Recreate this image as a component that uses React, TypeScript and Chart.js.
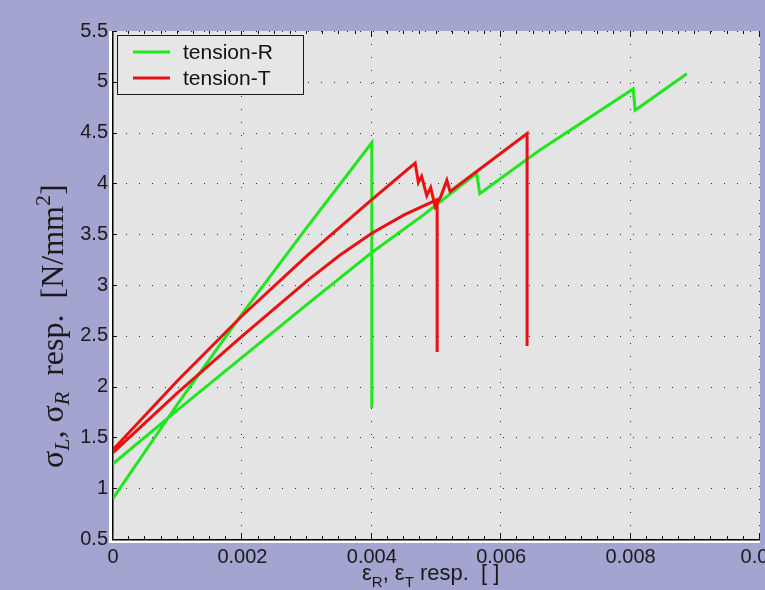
import { useEffect, useRef } from "react";
import { Chart, registerables } from "chart.js";

Chart.register(...registerables);

// Axis ticks
const xTicks = [0, 0.002, 0.004, 0.006, 0.008, 0.01];
const xTickLabels = ["0", "0.002", "0.004", "0.006", "0.008", "0.01"];
const yTicks = [0.5, 1, 1.5, 2, 2.5, 3, 3.5, 4, 4.5, 5, 5.5];
const yTickLabels = ["0.5", "1", "1.5", "2", "2.5", "3", "3.5", "4", "4.5", "5", "5.5"];

// tension-R, specimen 1
const strainR1 = [0, 0.001, 0.002, 0.003, 0.004, 0.004];
const stressR1 = [0.9, 1.83, 2.72, 3.57, 4.4, 1.79];

// tension-R, specimen 2
const strainR2 = [0, 0.001, 0.002, 0.003, 0.004, 0.0048, 0.00562, 0.00567, 0.0066, 0.00804, 0.00807, 0.00887];
const stressR2 = [1.24, 1.77, 2.29, 2.81, 3.32, 3.69, 4.1, 3.9, 4.33, 4.93, 4.72, 5.08];

// tension-T, specimen 1
const strainT1 = [0, 0.001, 0.002, 0.003, 0.004, 0.00467, 0.00472, 0.00477, 0.00485, 0.00491, 0.00498, 0.00506, 0.00516, 0.00521, 0.0064, 0.0064];
const stressT1 = [1.38, 2.06, 2.7, 3.29, 3.84, 4.2, 4.01, 4.07, 3.88, 3.96, 3.77, 3.86, 4.03, 3.92, 4.49, 2.4];

// tension-T, specimen 2
const strainT2 = [0, 0.001, 0.002, 0.003, 0.0035, 0.004, 0.0045, 0.00501, 0.00501];
const stressT2 = [1.35, 1.94, 2.5, 3.04, 3.29, 3.51, 3.69, 3.84, 2.34];

const seriesNames = ["tension-R", "tension-T"];
const seriesColors = ["#20e620", "#e81212"];

const SANS = "'Liberation Sans', Arial, Helvetica, sans-serif";
const SERIF = "'Liberation Serif', 'Times New Roman', serif";

type Pt = { x: number; y: number | null };

function toPoints(xs: number[], ys: number[]): Pt[] {
  return xs.map((x, i) => ({ x, y: ys[i] }));
}

// several curves in one dataset, separated by gaps
function joinCurves(...curves: Pt[][]): Pt[] {
  const out: Pt[] = [];
  curves.forEach((c, i) => {
    if (i > 0) out.push({ x: c[0].x, y: null });
    out.push(...c);
  });
  return out;
}

type Seg = { text: string; font: string; dy: number };

function drawRich(ctx: CanvasRenderingContext2D, segs: Seg[], x: number, y: number) {
  let cx = x;
  for (const s of segs) {
    ctx.font = s.font;
    ctx.fillText(s.text, cx, y + s.dy);
    cx += ctx.measureText(s.text).width;
  }
}

const framePlugin = {
  id: "frame",
  beforeDraw(chart: any) {
    const { ctx, chartArea: a, width, height } = chart;
    ctx.save();
    ctx.fillStyle = "#a3a4cf";
    ctx.fillRect(0, 0, width, height);
    // white edge along left and bottom axes
    ctx.fillStyle = "#ffffff";
    ctx.fillRect(a.left - 4, a.top, 4, a.bottom - a.top + 4);
    ctx.fillRect(a.left - 4, a.bottom, a.right - a.left + 4, 4);
    ctx.fillStyle = "#e4e4e4";
    ctx.fillRect(a.left, a.top, a.right - a.left, a.bottom - a.top);
    ctx.restore();
  },
  beforeDatasetsDraw(chart: any) {
    const { ctx, chartArea: a } = chart;
    const xs = chart.scales.x;
    const ys = chart.scales.y;
    ctx.save();
    ctx.fillStyle = "#2e2e2e";
    const step = 13;
    // dotted grid
    for (const v of xTicks) {
      if (v === 0) continue;
      const px = Math.round(xs.getPixelForValue(v)) - 1;
      for (let py = a.top; py < a.bottom; py += step) ctx.fillRect(px, Math.round(py), 1, 1);
    }
    for (const v of yTicks) {
      if (v === 0.5) continue;
      const py = Math.round(ys.getPixelForValue(v));
      for (let px = a.left; px < a.right; px += step) ctx.fillRect(Math.round(px), py, 1, 1);
    }
    // axis lines
    ctx.fillStyle = "#000000";
    ctx.fillRect(a.left - 1, a.top, 1.5, a.bottom - a.top + 1);
    ctx.fillRect(a.left - 1, a.bottom, a.right - a.left + 1, 1.5);
    // tick marks
    ctx.fillStyle = "#111111";
    for (const v of yTicks) {
      const py = Math.round(ys.getPixelForValue(v));
      ctx.fillRect(a.left, py, 4, 1);
    }
    for (let v = 0; v <= 0.01 + 1e-9; v += 0.00025) {
      const px = Math.round(xs.getPixelForValue(v)) - 1;
      const major = Math.abs(v / 0.002 - Math.round(v / 0.002)) < 1e-6;
      const len = major ? 6 : 3;
      ctx.fillRect(px, a.bottom - len, 1, len);
      ctx.fillRect(px, a.top, 1, len);
    }
    ctx.restore();
  },
  afterDraw(chart: any) {
    const { ctx, chartArea: a } = chart;
    ctx.save();

    // legend
    const bx = a.left + 4;
    const by = a.top + 4;
    const bw = 186;
    const bh = 59;
    ctx.fillStyle = "#e6e6e6";
    ctx.fillRect(bx, by, bw, bh);
    ctx.strokeStyle = "#1a1a1a";
    ctx.lineWidth = 1;
    ctx.strokeRect(bx + 0.5, by + 0.5, bw, bh);
    seriesNames.forEach((name, i) => {
      const ly = by + 17 + i * 26;
      ctx.strokeStyle = seriesColors[i];
      ctx.lineWidth = 3;
      ctx.beginPath();
      ctx.moveTo(bx + 16, ly);
      ctx.lineTo(bx + 53, ly);
      ctx.stroke();
      ctx.fillStyle = "#111111";
      ctx.font = `21px ${SANS}`;
      ctx.textBaseline = "middle";
      ctx.textAlign = "left";
      ctx.fillText(name, bx + 66, ly + 1);
    });

    // x axis title
    ctx.fillStyle = "#1a1a1a";
    ctx.textBaseline = "alphabetic";
    ctx.textAlign = "left";
    const fx = `22px ${SANS}`;
    const fs = `15px ${SANS}`;
    drawRich(
      ctx,
      [
        { text: "ε", font: fx, dy: 0 },
        { text: "R", font: fs, dy: 7 },
        { text: ", ε", font: fx, dy: 0 },
        { text: "T", font: fs, dy: 7 },
        { text: " resp.  [ ]", font: fx, dy: 0 },
      ],
      362,
      580
    );

    // y axis title (rotated)
    ctx.translate(63, 468);
    ctx.rotate(-Math.PI / 2);
    const fn = `32px ${SERIF}`;
    const fi = `italic 22px ${SERIF}`;
    const fsup = `22px ${SERIF}`;
    drawRich(
      ctx,
      [
        { text: "σ", font: fn, dy: 0 },
        { text: "L", font: fi, dy: 6 },
        { text: ", σ", font: fn, dy: 0 },
        { text: "R", font: fi, dy: 6 },
        { text: "  resp.  [N/mm", font: fn, dy: 0 },
        { text: "2", font: fsup, dy: -13 },
        { text: "]", font: fn, dy: 0 },
      ],
      0,
      0
    );
    ctx.restore();
  },
};

export default function App() {
  const canvasRef = useRef<HTMLCanvasElement | null>(null);

  useEffect(() => {
    if (!canvasRef.current) return;
    const greenData = joinCurves(toPoints(strainR1, stressR1), toPoints(strainR2, stressR2));
    const redData = joinCurves(toPoints(strainT1, stressT1), toPoints(strainT2, stressT2));

    const tickFont = { family: SANS, size: 20 };

    const chart = new Chart(canvasRef.current, {
      type: "scatter",
      data: {
        datasets: [
          {
            label: seriesNames[0],
            data: greenData as any,
            showLine: true,
            borderColor: seriesColors[0],
            borderWidth: 3,
            pointRadius: 0,
            spanGaps: false,
            order: 1,
          },
          {
            label: seriesNames[1],
            data: redData as any,
            showLine: true,
            borderColor: seriesColors[1],
            borderWidth: 3,
            pointRadius: 0,
            spanGaps: false,
            order: 0,
          },
        ],
      },
      options: {
        responsive: false,
        animation: false,
        devicePixelRatio: 1,
        layout: { padding: { top: 31, right: 5, left: 0, bottom: 0 } },
        plugins: {
          legend: { display: false },
          tooltip: { enabled: false },
        },
        scales: {
          x: {
            type: "linear",
            min: 0,
            max: 0.01,
            afterBuildTicks: (s: any) => {
              s.ticks = xTicks.map((value) => ({ value }));
            },
            afterFit: (s: any) => {
              s.height = 51;
              s.paddingLeft = 0;
              s.paddingRight = 0;
            },
            ticks: {
              callback: (_v: any, i: number) => xTickLabels[i],
              autoSkip: false,
              maxRotation: 0,
              minRotation: 0,
              font: tickFont,
              color: "#1a1a1a",
              padding: 6,
            },
            grid: { display: false, drawTicks: false, tickLength: 0 },
            border: { display: false },
          },
          y: {
            type: "linear",
            min: 0.5,
            max: 5.5,
            afterBuildTicks: (s: any) => {
              s.ticks = yTicks.map((value) => ({ value }));
            },
            afterFit: (s: any) => {
              s.width = 113;
              s.paddingTop = 0;
              s.paddingBottom = 0;
            },
            ticks: {
              callback: (_v: any, i: number) => yTickLabels[i],
              autoSkip: false,
              font: tickFont,
              color: "#1a1a1a",
              padding: 5,
            },
            grid: { display: false, drawTicks: false, tickLength: 0 },
            border: { display: false },
          },
        },
      },
      plugins: [framePlugin],
    });

    return () => chart.destroy();
  }, []);

  return (
    <div style={{ position: "absolute", left: 0, top: 0, width: 765, height: 590 }}>
      <canvas ref={canvasRef} width={765} height={590} style={{ display: "block" }} />
    </div>
  );
}
